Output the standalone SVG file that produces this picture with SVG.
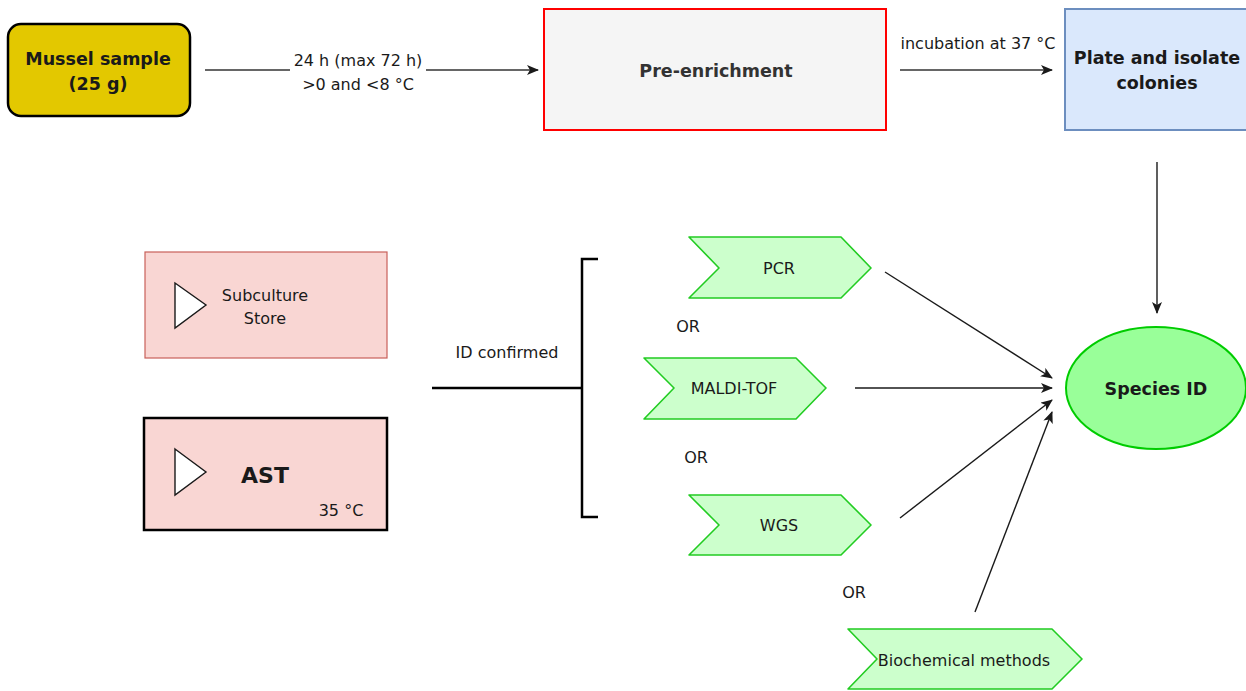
<svg xmlns="http://www.w3.org/2000/svg" width="1246" height="691" viewBox="0 0 1246 691">
  <style>
    .t { font-family: "DejaVu Sans", "Liberation Sans", sans-serif; font-size: 16px; fill: #1a1a1a; text-anchor: middle; dominant-baseline: central; }
    .b { font-weight: bold; font-size: 17.5px; }
    .edge { fill: none; stroke: #1a1a1a; stroke-width: 1.4; }
    .step { fill: #ccffcc; stroke: #22cc22; stroke-width: 1.6; stroke-linejoin: round; }
    .tri { fill: #ffffff; stroke: #1a1a1a; stroke-width: 1.4; stroke-linejoin: miter; }
  </style>
  <defs>
    <marker id="arrow" viewBox="0 0 12 10" refX="11" refY="5" markerWidth="12" markerHeight="10" markerUnits="userSpaceOnUse" orient="auto">
      <path d="M0,0 L12,5 L0,10 L3,5 Z" fill="#1a1a1a"/>
    </marker>
  </defs>
  <rect width="1246" height="691" fill="#ffffff"/>

  <!-- connectors -->
  <g id="connectors">
    <line class="edge" x1="205" y1="70" x2="538" y2="70" marker-end="url(#arrow)" style="stroke:#333"/>
    <rect x="290" y="46" width="136" height="52" fill="#ffffff"/>
    <text class="t" x="358" y="60">24 h (max 72 h)</text>
    <text class="t" x="358" y="84">&gt;0 and &lt;8 °C</text>

    <line class="edge" x1="900" y1="70" x2="1052" y2="70" marker-end="url(#arrow)" style="stroke:#333"/>
    <text class="t" x="978" y="43">incubation at 37 °C</text>

    <line class="edge" x1="1157" y1="162" x2="1157" y2="313" marker-end="url(#arrow)"/>

    <line class="edge" x1="885" y1="272" x2="1052" y2="378" marker-end="url(#arrow)"/>
    <line class="edge" x1="855" y1="388" x2="1052" y2="388" marker-end="url(#arrow)"/>
    <line class="edge" x1="900" y1="518" x2="1052" y2="400" marker-end="url(#arrow)"/>
    <line class="edge" x1="975" y1="612" x2="1052" y2="412" marker-end="url(#arrow)"/>

    <!-- ID confirmed branch -->
    <line x1="432" y1="388" x2="582" y2="388" stroke="#000" stroke-width="2.5"/>
    <path d="M598,259 H582 V517 H598" fill="none" stroke="#000" stroke-width="2.5"/>
    <text class="t" x="507" y="352">ID confirmed</text>

    <text class="t" x="688" y="326">OR</text>
    <text class="t" x="696" y="457">OR</text>
    <text class="t" x="854" y="592">OR</text>
  </g>

  <!-- nodes -->
  <g id="mussel-sample">
    <rect x="8" y="24" width="182" height="92" rx="13" fill="#e3c800" stroke="#000" stroke-width="2.5"/>
    <text class="t b" x="98" y="59">Mussel sample</text>
    <text class="t b" x="98" y="84">(25 g)</text>
  </g>

  <g id="pre-enrichment">
    <rect x="544" y="9" width="342" height="121" fill="#f5f5f5" stroke="#ff0000" stroke-width="2"/>
    <text class="t b" x="716" y="71" style="fill:#333">Pre-enrichment</text>
  </g>

  <g id="plate-isolate">
    <rect x="1065" y="9" width="192" height="121" fill="#dae8fc" stroke="#6c8ebf" stroke-width="2"/>
    <text class="t b" x="1157" y="58">Plate and isolate</text>
    <text class="t b" x="1157" y="83">colonies</text>
  </g>

  <g id="species-id">
    <ellipse cx="1156" cy="388" rx="90" ry="61" fill="#99ff99" stroke="#00cc00" stroke-width="2"/>
    <text class="t b" x="1156" y="389">Species ID</text>
  </g>

  <g id="subculture">
    <rect x="145" y="252" width="242" height="106" fill="#f9d6d3" stroke="#c8605a" stroke-width="1.2"/>
    <path class="tri" d="M175,283 L206,305 L175,328 Z"/>
    <text class="t" x="265" y="295">Subculture</text>
    <text class="t" x="265" y="318">Store</text>
  </g>

  <g id="ast">
    <rect x="144" y="418" width="243" height="112" fill="#f9d6d3" stroke="#000" stroke-width="2.5"/>
    <path class="tri" d="M175,449 L206,472 L175,495 Z"/>
    <text class="t b" x="265" y="475" style="font-size:22px">AST</text>
    <text class="t" x="341" y="510">35 °C</text>
  </g>

  <g id="pcr">
    <path class="step" d="M689,237 H841 L871,268 L841,298 H689 L719,268 Z"/>
    <text class="t" x="779" y="268">PCR</text>
  </g>

  <g id="maldi-tof">
    <path class="step" d="M644,358 H796 L826,388 L796,419 H644 L674,388 Z"/>
    <text class="t" x="734" y="388">MALDI-TOF</text>
  </g>

  <g id="wgs">
    <path class="step" d="M689,495 H841 L871,525 L841,555 H689 L719,525 Z"/>
    <text class="t" x="779" y="525">WGS</text>
  </g>

  <g id="biochemical">
    <path class="step" d="M848,629 H1052 L1082,659 L1052,689 H848 L877,659 Z"/>
    <text class="t" x="964" y="660">Biochemical methods</text>
  </g>
</svg>
